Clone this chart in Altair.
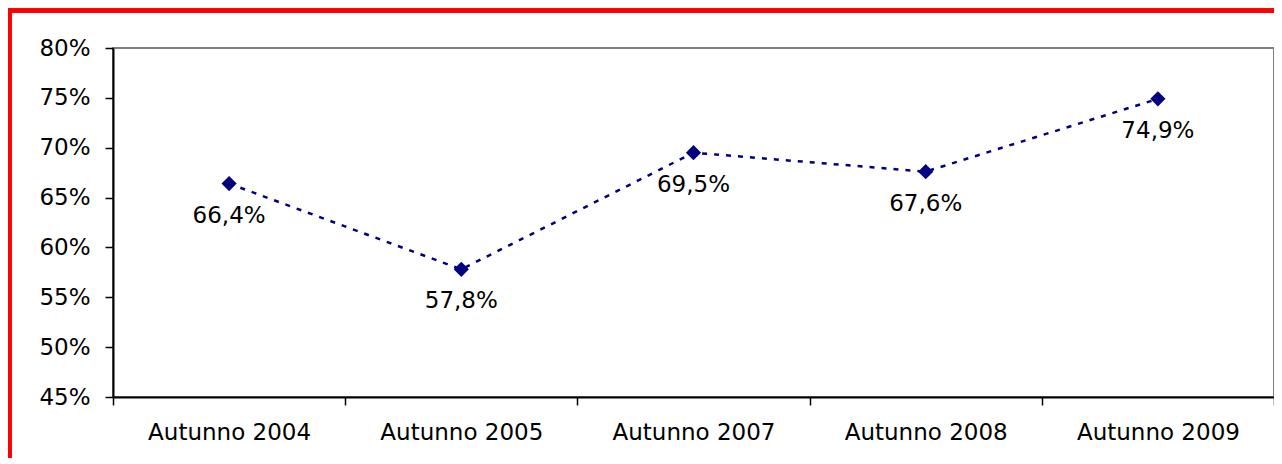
import altair as alt
import pandas as pd

categories = ["Autunno 2004", "Autunno 2005", "Autunno 2007", "Autunno 2008", "Autunno 2009"]
values = [0.664, 0.578, 0.695, 0.676, 0.749]
y_ticks = [0.45, 0.50, 0.55, 0.60, 0.65, 0.70, 0.75, 0.80]

df = pd.DataFrame({"periodo": categories, "valore": values})

FONT = "DejaVu Sans"
FS = 23
NAVY = "#000080"

x_enc = alt.X(
    "periodo:N",
    sort=categories,
    title=None,
    scale=alt.Scale(type="band", paddingInner=0, paddingOuter=0),
    axis=alt.Axis(
        labelAngle=0,
        tickBand="extent",
        domainColor="black",
        domainWidth=2,
        tickColor="black",
        tickWidth=1.5,
        tickSize=8,
        labelPadding=16,
        labelFont=FONT,
        labelFontSize=FS,
        labelColor="black",
        grid=False,
    ),
)
y_enc = alt.Y(
    "valore:Q",
    title=None,
    scale=alt.Scale(domain=[0.45, 0.80], nice=False, zero=False),
    axis=alt.Axis(
        values=y_ticks,
        format=".0%",
        domainColor="black",
        domainWidth=2,
        tickColor="black",
        tickWidth=1.5,
        tickSize=8,
        labelPadding=15,
        labelFont=FONT,
        labelFontSize=FS,
        labelColor="black",
        grid=False,
    ),
)

base = alt.Chart(df)

line = base.mark_line(
    color=NAVY, strokeWidth=2.5, strokeDash=[5, 7]
).encode(x=x_enc, y=y_enc)

points = base.mark_point(
    shape="diamond", filled=True, color=NAVY, size=230, opacity=1
).encode(x=x_enc, y=y_enc)

labels = base.mark_text(
    font=FONT, fontSize=FS, color="black", baseline="middle", align="center", dy=32
).transform_calculate(
    etichetta="replace(format(datum.valore, '.1%'), '.', ',')"
).encode(x=x_enc, y=y_enc, text="etichetta:N")

frame = base.mark_rect(
    fill=None, fillOpacity=0, stroke="#ff0000", strokeWidth=4, clip=False
).encode(
    x=alt.value(-103.5), x2=alt.value(1250),
    y=alt.value(-37.5), y2=alt.value(480),
)

chart = alt.layer(line, points, labels, frame).properties(
    width=1161,
    height=349,
    padding={"left": 105, "top": 40, "right": 0, "bottom": 61},
    autosize=alt.AutoSizeParams(type="none"),
    background="white",
).configure_view(
    stroke="#808080", strokeWidth=2
)

chart.save("out.html", embed_options={"renderer": "svg", "actions": False})
